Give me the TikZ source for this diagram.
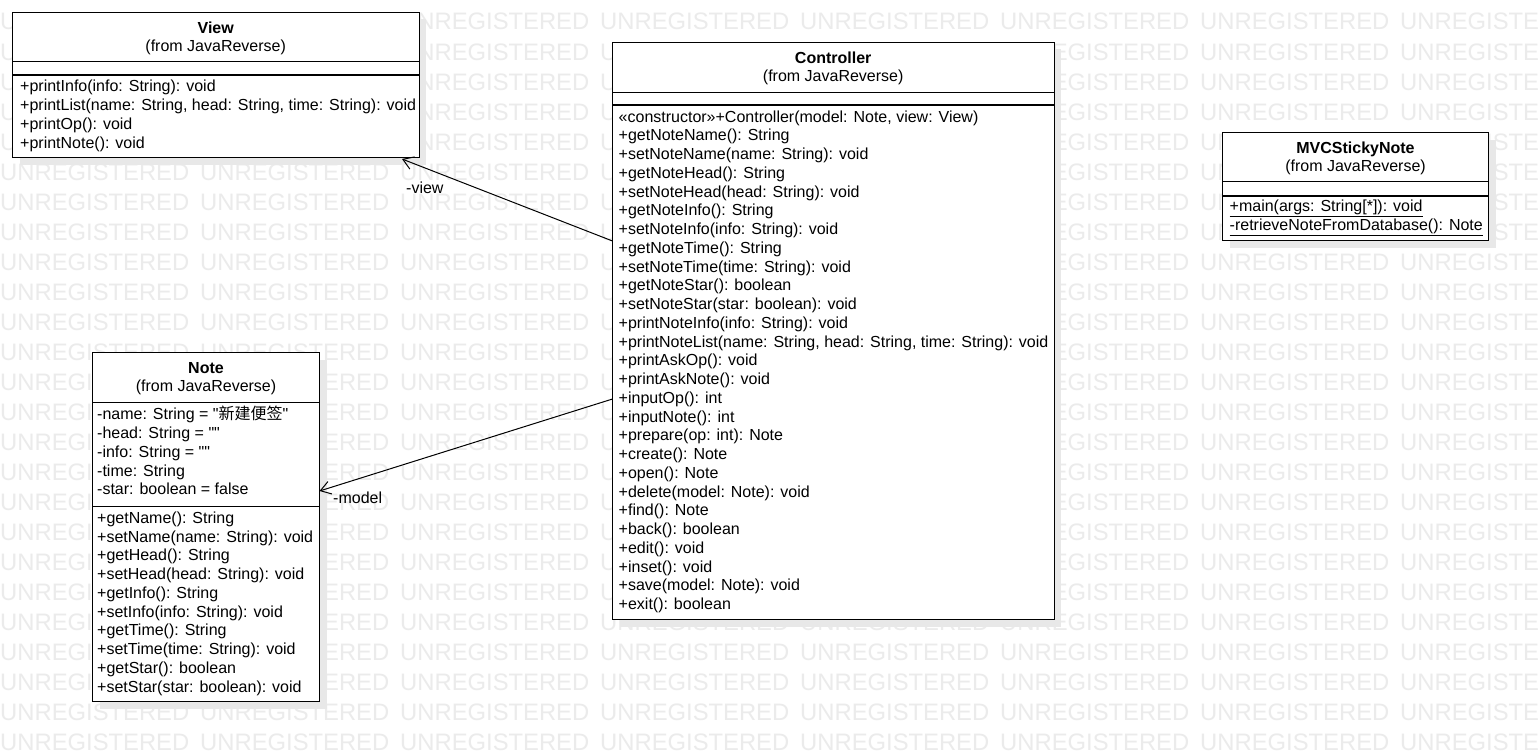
\documentclass[tikz,border=0pt]{standalone}
\usepackage{fontspec}
\setmainfont{Liberation Sans}
\newfontfamily\cjk{Noto Sans CJK SC}
\usetikzlibrary{arrows.meta,shadows}

\begin{document}
\begin{tikzpicture}[x=1pt,y=-1pt,
  classbox/.style={draw, line width=1pt, fill=white, anchor=north west, inner sep=0pt, outer sep=0pt,
    drop shadow={shadow xshift=7pt, shadow yshift=-7pt, fill=black!9, opacity=1}},
  mem/.style={anchor=base west, inner sep=0pt, font=\fontsize{16}{19}\selectfont},
  cname/.style={anchor=base, inner sep=0pt, font=\fontsize{16}{19}\selectfont\bfseries},
  cfrom/.style={anchor=base, inner sep=0pt, font=\fontsize{16}{19}\selectfont},
  wm/.style={anchor=base west, inner sep=0pt, text=black!8, font=\fontsize{23.8}{28}\selectfont},
  assoc/.style={-{Straight Barb[length=10pt,width=13pt]}, line width=1pt}]

\path[fill=white, use as bounding box] (0,0) rectangle (1538,752);

% watermark
\begin{scope}
\clip (0,0) rectangle (1538,752);
\foreach \r in {1,...,25}
  \foreach \c in {0,...,7}
    \node[wm] (wm\r-\c) at (200*\c,30*\r) {UNREGISTERED};
\end{scope}

% class boxes
\node[classbox, minimum width=406.5pt, minimum height=145pt] (view) at (12.5,12.5) {};
\node[classbox, minimum width=441.5pt, minimum height=577pt] (ctrl) at (612.5,42.5) {};
\node[classbox, minimum width=266pt, minimum height=108pt] (mvc) at (1222.5,132.5) {};
\node[classbox, minimum width=227pt, minimum height=349pt] (note) at (92.5,352.5) {};

\draw[line width=1pt] (12.5,62)--(419,62);
\draw[line width=2pt] (12.5,75.3)--(419,75.3);
\draw[line width=1pt] (612.5,92)--(1054,92);
\draw[line width=2pt] (612.5,105.3)--(1054,105.3);
\draw[line width=1pt] (1222.5,181.7)--(1488.5,181.7);
\draw[line width=2pt] (1222.5,195.7)--(1488.5,195.7);
\draw[line width=1pt] (92.5,402)--(319.5,402);
\draw[line width=1pt] (92.5,506)--(319.5,506);

% View
\node[cname] (tview) at (215.7,33.3) {View};
\node[cfrom] (fview) at (215.7,51.6) {(from JavaReverse)};
\node[mem] (v1) at (20,91.7) {+printInfo(info: String): void};
\node[mem] (v2) at (20,110.5) {+printList(name: String, head: String, time: String): void};
\node[mem] (v3) at (20,129.2) {+printOp(): void};
\node[mem] (v4) at (20,148) {+printNote(): void};

% Controller
\node[cname] (tctrl) at (833.2,63.3) {Controller};
\node[cfrom] (fctrl) at (833.2,81.6) {(from JavaReverse)};
\node[mem] (c1) at (618.5,122) {«constructor»+Controller(model: Note, view: View)};
\node[mem] (c2) at (618.5,140.75) {+getNoteName(): String};
\node[mem] (c3) at (618.5,159.5) {+setNoteName(name: String): void};
\node[mem] (c4) at (618.5,178.25) {+getNoteHead(): String};
\node[mem] (c5) at (618.5,197) {+setNoteHead(head: String): void};
\node[mem] (c6) at (618.5,215.75) {+getNoteInfo(): String};
\node[mem] (c7) at (618.5,234.5) {+setNoteInfo(info: String): void};
\node[mem] (c8) at (618.5,253.25) {+getNoteTime(): String};
\node[mem] (c9) at (618.5,272) {+setNoteTime(time: String): void};
\node[mem] (c10) at (618.5,290.75) {+getNoteStar(): boolean};
\node[mem] (c11) at (618.5,309.5) {+setNoteStar(star: boolean): void};
\node[mem] (c12) at (618.5,328.25) {+printNoteInfo(info: String): void};
\node[mem] (c13) at (618.5,347) {+printNoteList(name: String, head: String, time: String): void};
\node[mem] (c14) at (618.5,365.75) {+printAskOp(): void};
\node[mem] (c15) at (618.5,384.5) {+printAskNote(): void};
\node[mem] (c16) at (618.5,403.25) {+inputOp(): int};
\node[mem] (c17) at (618.5,422) {+inputNote(): int};
\node[mem] (c18) at (618.5,440.75) {+prepare(op: int): Note};
\node[mem] (c19) at (618.5,459.5) {+create(): Note};
\node[mem] (c20) at (618.5,478.25) {+open(): Note};
\node[mem] (c21) at (618.5,497) {+delete(model: Note): void};
\node[mem] (c22) at (618.5,515.75) {+find(): Note};
\node[mem] (c23) at (618.5,534.5) {+back(): boolean};
\node[mem] (c24) at (618.5,553.25) {+edit(): void};
\node[mem] (c25) at (618.5,572) {+inset(): void};
\node[mem] (c26) at (618.5,590.75) {+save(model: Note): void};
\node[mem] (c27) at (618.5,609.5) {+exit(): boolean};

% MVCStickyNote
\node[cname] (tmvc) at (1355.5,153.3) {MVCStickyNote};
\node[cfrom] (fmvc) at (1355.5,171.6) {(from JavaReverse)};
\node[mem] (m1) at (1229.5,211.7) {+main(args: String[*]): void};
\node[mem] (m2) at (1229.5,230.5) {-retrieveNoteFromDatabase(): Note};
\draw[line width=1pt] ([yshift=-5pt]m1.base west) -- ([yshift=-5pt]m1.base east);
\draw[line width=1pt] ([yshift=-5pt]m2.base west) -- ([yshift=-5pt]m2.base east);

% Note
\node[cname] (tnote) at (206,373.3) {Note};
\node[cfrom] (fnote) at (206,391.6) {(from JavaReverse)};
\node[mem] (a1) at (97,419.7) {-name: String = \textquotedbl{\cjk 新建便签}\textquotedbl};
\node[mem] (a2) at (97,438.5) {-head: String = \textquotedbl\textquotedbl};
\node[mem] (a3) at (97,457.2) {-info: String = \textquotedbl\textquotedbl};
\node[mem] (a4) at (97,476) {-time: String};
\node[mem] (a5) at (97,494.7) {-star: boolean = false};
\node[mem] (n1) at (97,523.3) {+getName(): String};
\node[mem] (n2) at (97,542) {+setName(name: String): void};
\node[mem] (n3) at (97,560.8) {+getHead(): String};
\node[mem] (n4) at (97,579.6) {+setHead(head: String): void};
\node[mem] (n5) at (97,598.3) {+getInfo(): String};
\node[mem] (n6) at (97,617) {+setInfo(info: String): void};
\node[mem] (n7) at (97,635.8) {+getTime(): String};
\node[mem] (n8) at (97,654.6) {+setTime(time: String): void};
\node[mem] (n9) at (97,673.3) {+getStar(): boolean};
\node[mem] (n10) at (97,692) {+setStar(star: boolean): void};

% associations
\draw[assoc] ([yshift=90pt]ctrl.west) -- ([xshift=-17pt,yshift=-1.5pt]view.south east);
\draw[assoc] ([yshift=-68pt]ctrl.west) -- ([yshift=36pt]note.east);
\node[mem] (lview) at (406,193) {-view};
\node[mem] (lmodel) at (333,503) {-model};

\end{tikzpicture}
\end{document}
